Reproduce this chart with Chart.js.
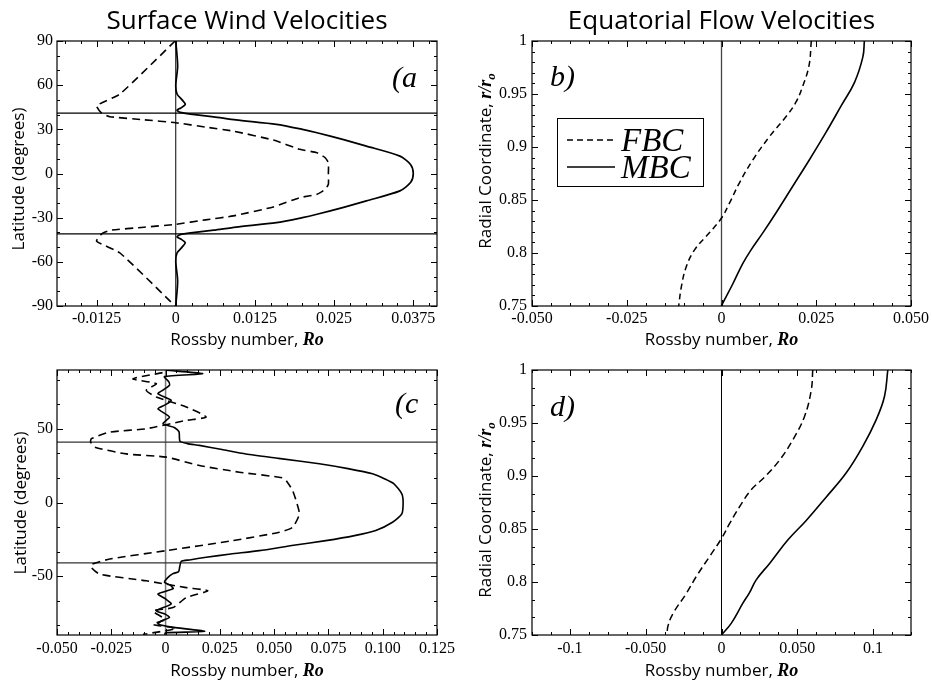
<!DOCTYPE html>
<html>
<head>
<meta charset="utf-8">
<title>Surface Wind and Equatorial Flow Velocities</title>
<script src="https://cdn.jsdelivr.net/npm/chart.js@4.4.1/dist/chart.umd.min.js"></script>
<style>
  body { margin: 0; background: #fff; }
  #wrap { position: relative; width: 932px; height: 683px; }
  #wrap canvas { position: absolute; left: 0; top: 0; }
</style>
</head>
<body>
<div id="wrap">
  <canvas id="chartA" width="932" height="683"></canvas>
  <canvas id="chartB" width="932" height="683"></canvas>
  <canvas id="chartC" width="932" height="683"></canvas>
  <canvas id="chartD" width="932" height="683"></canvas>
</div>
<script>
/*---- data: panel (a) surface wind, Rossby number against latitude ----- */
var latA_fbc = [90, 54, 46, 41, 38.6, 36.5, 34.5, 31.5, 28.8, 22.7, 16.4, 14.1, 10.7, 7.3, 0, -7.3, -10.7, -14.1, -16.4, -22.7, -28.8, -31.5, -34.5, -36.5, -38.6, -41, -46, -54, -90];
var roA_fbc = [-0.0001, -0.0088, -0.0125, -0.0117, -0.0104, -0.0050, 0.0000, 0.0047, 0.0091, 0.0154, 0.0196, 0.0223, 0.0236, 0.0241, 0.0241, 0.0241, 0.0236, 0.0223, 0.0196, 0.0154, 0.0091, 0.0047, 0.0000, -0.0050, -0.0104, -0.0117, -0.0125, -0.0088, -0.0001];
var latA_mbc = [90, 73, 60, 54, 50, 47, 44.5, 43, 41.5, 40.2, 38.5, 36.4, 33.4, 30, 27.7, 23, 18.6, 11.8, 6, 0, -6, -11.8, -18.6, -23, -27.7, -30, -33.4, -36.4, -38.5, -40.2, -41.5, -43, -44.5, -47, -50, -54, -60, -73, -90];
var roA_mbc = [0.0000, 0.0003, 0.0000, 0.0002, 0.0010, 0.0015, 0.0008, 0.0002, 0.0007, 0.0027, 0.0060, 0.0095, 0.0159, 0.0200, 0.0223, 0.0265, 0.0301, 0.0354, 0.0371, 0.0375, 0.0371, 0.0354, 0.0301, 0.0265, 0.0223, 0.0200, 0.0159, 0.0095, 0.0060, 0.0027, 0.0007, 0.0002, 0.0008, 0.0015, 0.0010, 0.0002, 0.0000, 0.0003, 0.0000];

/*---- data: panel (b) equatorial flow, Rossby number against radius ----- */
var rB_fbc = [1.000, 0.977, 0.958, 0.942, 0.929, 0.910, 0.888, 0.866, 0.847, 0.833, 0.819, 0.803, 0.787, 0.768, 0.750];
var roB_fbc = [0.0237, 0.0231, 0.0215, 0.0196, 0.0171, 0.0127, 0.0083, 0.0047, 0.0021, 0.0000, -0.0032, -0.0071, -0.0093, -0.0106, -0.0113];
var rB_mbc = [1.000, 0.985, 0.961, 0.939, 0.914, 0.888, 0.863, 0.838, 0.819, 0.803, 0.790, 0.771, 0.7525, 0.750];
var roB_mbc = [0.0377, 0.0373, 0.0351, 0.0316, 0.0276, 0.0232, 0.0188, 0.0144, 0.0109, 0.0078, 0.0056, 0.0030, 0.0003, 0.0000];

/*---- data: panel (c) surface wind ----- */
var latC_fbc = [88.2, 84, 80.7, 76.2, 71.7, 64.9, 58.1, 55.8, 50.1, 47.8, 43.3, 41, 37.6, 33, 30.8, 25.1, 20.6, 16.7, 14, 8.1, 1.3, -7.8, -16.8, -20.2, -25.9, -32.7, -38.4, -42, -44.1, -48.7, -53.2, -57.8, -60, -64.6, -71.4, -73.7, -79.4, -82.8, -85.5, -89.6];
var roC_fbc = [-0.0014, -0.0150, -0.0043, -0.0089, -0.0043, 0.0095, 0.0187, 0.0095, -0.0089, -0.0257, -0.0342, -0.0345, -0.0326, -0.0181, 0.0003, 0.0156, 0.0340, 0.0539, 0.0560, 0.0585, 0.0601, 0.0616, 0.0585, 0.0524, 0.0309, 0.0003, -0.0257, -0.0340, -0.0342, -0.0303, -0.0089, 0.0095, 0.0195, 0.0095, 0.0034, -0.0058, -0.0003, -0.0058, 0.0049, -0.0104];
var latC_mbc = [89.8, 87.5, 85.5, 82, 79.6, 76.5, 73.9, 69.4, 66.5, 63.7, 58, 53.5, 51, 48, 41.7, 40, 38.8, 36, 33, 30, 26.3, 23, 19.5, 16, 12.7, 5.9, 0, -7.7, -13.4, -19, -22.5, -25.9, -29, -32.7, -35, -37.2, -39, -40, -43.8, -47, -48.3, -51, -54.2, -56, -58.5, -62.1, -65.5, -68.9, -73.5, -76, -78, -80.5, -82.5, -84.5, -87.5, -88.5, -89.8];
var roC_mbc = [0.0005, 0.0171, -0.0005, 0.0015, 0.0018, -0.0010, -0.0035, 0.0026, 0.0000, -0.0035, 0.0018, -0.0012, 0.0040, 0.0062, 0.0066, 0.0100, 0.0156, 0.0260, 0.0370, 0.0520, 0.0708, 0.0840, 0.0953, 0.1010, 0.1052, 0.1088, 0.1094, 0.1088, 0.1045, 0.0968, 0.0870, 0.0738, 0.0590, 0.0432, 0.0300, 0.0187, 0.0110, 0.0072, 0.0065, 0.0060, 0.0034, 0.0010, -0.0005, 0.0020, 0.0035, -0.0035, 0.0000, 0.0026, -0.0043, 0.0000, 0.0018, -0.0020, -0.0035, 0.0020, 0.0180, 0.0000, -0.0005];

/*---- data: panel (d) equatorial flow ----- */
var rD_fbc = [1.000, 0.981, 0.956, 0.934, 0.915, 0.899, 0.887, 0.871, 0.855, 0.841, 0.824, 0.805, 0.789, 0.770, 0.758, 0.750];
var roD_fbc = [0.0602, 0.0592, 0.0547, 0.0470, 0.0383, 0.0284, 0.0196, 0.0119, 0.0053, 0.0000, -0.0079, -0.0167, -0.0233, -0.0321, -0.0354, -0.0358];
var rD_mbc = [1.000, 0.975, 0.953, 0.928, 0.903, 0.880, 0.858, 0.840, 0.818, 0.802, 0.790, 0.780, 0.761, 0.750];
var roD_mbc = [0.1097, 0.1075, 0.1020, 0.0932, 0.0823, 0.0690, 0.0559, 0.0440, 0.0320, 0.0229, 0.0185, 0.0141, 0.0064, 0.0000];

// tangent cylinder latitude lines in (a) and (c)
var boundaryLat = [41, -41];

/*---- axis ticks ----- */
var ticksA_x = [-0.0125, 0, 0.0125, 0.025, 0.0375];
var labelsA_x = ["-0.0125", "0", "0.0125", "0.025", "0.0375"];
var ticksA_y = [-90, -60, -30, 0, 30, 60, 90];
var labelsA_y = ["-90", "-60", "-30", "0", "30", "60", "90"];
var ticksB_x = [-0.05, -0.025, 0, 0.025, 0.05];
var labelsB_x = ["-0.050", "-0.025", "0", "0.025", "0.050"];
var ticksR = [0.75, 0.8, 0.85, 0.9, 0.95, 1];
var labelsR = ["0.75", "0.8", "0.85", "0.9", "0.95", "1"];
var ticksC_x = [-0.05, -0.025, 0, 0.025, 0.05, 0.075, 0.1, 0.125];
var labelsC_x = ["-0.050", "-0.025", "0", "0.025", "0.050", "0.075", "0.100", "0.125"];
var ticksC_y = [-50, 0, 50];
var labelsC_y = ["-50", "0", "50"];
var ticksD_x = [-0.1, -0.05, 0, 0.05, 0.1];
var labelsD_x = ["-0.1", "-0.050", "0", "0.050", "0.1"];

/*---- helpers ----- */
var SANS = "'Open Sans', sans-serif";
var SERIF = "'Liberation Serif', serif";

Chart.defaults.font.family = SERIF;
Chart.defaults.font.size = 16;
Chart.defaults.color = '#000';
Chart.defaults.animation = false;

function pts(xs, ys) {
    return xs.map(function (x, i) { return { x: x, y: ys[i] }; });
}

function minorValues(min, max, step) {
    var out = [];
    var k = Math.ceil(min / step - 1e-6);
    for (; k * step <= max + 1e-9; k++) out.push(k * step);
    return out;
}

function drawParts(ctx, parts, cx, cy, rotate) {
    ctx.save();
    ctx.translate(cx, cy);
    if (rotate) ctx.rotate(-Math.PI / 2);
    var total = 0;
    parts.forEach(function (p) { ctx.font = p.font; total += ctx.measureText(p.text).width; });
    var x = -total / 2;
    ctx.textAlign = 'left';
    ctx.textBaseline = 'alphabetic';
    ctx.fillStyle = '#000';
    parts.forEach(function (p) {
        ctx.font = p.font;
        ctx.fillText(p.text, x, p.dy || 0);
        x += ctx.measureText(p.text).width;
    });
    ctx.restore();
}

// frame, inward ticks, mixed-font axis titles, panel letter and legend
var frame = {
    id: 'frame',
    afterDatasetsDraw: function (chart, args, o) {
        var ctx = chart.ctx, a = chart.chartArea;
        var xs = chart.scales.x, ys = chart.scales.y;
        ctx.save();
        ctx.strokeStyle = '#000';
        ctx.lineWidth = 1.2;
        ctx.strokeRect(a.left, a.top, a.right - a.left, a.bottom - a.top);

        ctx.lineWidth = 1;
        ctx.beginPath();
        function tickX(v, len) {
            var p = Math.round(xs.getPixelForValue(v)) + 0.5;
            ctx.moveTo(p, a.bottom); ctx.lineTo(p, a.bottom - len);
            ctx.moveTo(p, a.top); ctx.lineTo(p, a.top + len);
        }
        function tickY(v, len) {
            var p = Math.round(ys.getPixelForValue(v)) + 0.5;
            ctx.moveTo(a.left, p); ctx.lineTo(a.left + len, p);
            ctx.moveTo(a.right, p); ctx.lineTo(a.right - len, p);
        }
        xs.ticks.forEach(function (t) { tickX(t.value, 6); });
        ys.ticks.forEach(function (t) { tickY(t.value, 6); });
        minorValues(xs.min, xs.max, o.minorX).forEach(function (v) { tickX(v, 3); });
        minorValues(ys.min, ys.max, o.minorY).forEach(function (v) { tickY(v, 3); });
        ctx.stroke();

        // axis titles
        drawParts(ctx, [
            { text: 'Rossby number, ', font: '17px ' + SANS },
            { text: 'Ro', font: 'italic bold 18px ' + SERIF }
        ], (a.left + a.right) / 2, o.xTitleY, false);
        drawParts(ctx, o.yTitle, o.yTitleX, o.yTitleY, true);

        // panel letter
        ctx.font = 'italic 30px ' + SERIF;
        ctx.textAlign = 'left';
        ctx.textBaseline = 'alphabetic';
        ctx.fillStyle = '#000';
        ctx.fillText(o.panel.text, o.panel.x, o.panel.y);

        // legend box
        if (o.legend) {
            var L = o.legend;
            ctx.lineWidth = 1;
            ctx.strokeRect(L.x + 0.5, L.y + 0.5, L.w, L.h);
            var row = 0;
            chart.data.datasets.forEach(function (ds) {
                if (!ds.label) return;
                var ly = L.y + 22 + row * 27;
                ctx.save();
                ctx.lineWidth = ds.borderWidth;
                ctx.setLineDash(ds.borderDash || []);
                ctx.beginPath();
                ctx.moveTo(L.x + 10, ly);
                ctx.lineTo(L.x + 58, ly);
                ctx.stroke();
                ctx.restore();
                ctx.font = 'italic 33px ' + SERIF;
                ctx.fillText(ds.label, L.x + 64, ly + 11);
                row++;
            });
        }
        ctx.restore();
    }
};

function makeScales(o) {
    return {
        x: {
            type: 'linear', min: o.xMin, max: o.xMax,
            afterFit: function (s) { s.height = 30; },
            afterBuildTicks: function (s) { s.ticks = o.xTicks.map(function (v) { return { value: v }; }); },
            ticks: { callback: function (v, i) { return o.xLabels[i]; }, padding: o.xPad, autoSkip: false, maxRotation: 0, font: { family: SERIF, size: 16 } },
            grid: { display: false, drawTicks: false },
            border: { display: false }
        },
        y: {
            type: 'linear', min: o.yMin, max: o.yMax,
            afterFit: function (s) { s.width = 50; },
            afterBuildTicks: function (s) { s.ticks = o.yTicks.map(function (v) { return { value: v }; }); },
            ticks: { callback: function (v, i) { return o.yLabels[i]; }, padding: o.yPad, autoSkip: false, font: { family: SERIF, size: 16 } },
            grid: { display: false, drawTicks: false },
            border: { display: false }
        }
    };
}

function pad(area, withTitle) {
    return {
        left: area.left - 50,
        right: 932 - area.right,
        top: withTitle ? area.top - 36.2 : area.top,
        bottom: 683 - area.bottom - 30
    };
}

function titleOpts(text) {
    return {
        display: !!text, text: text, fullSize: false, color: '#000',
        font: { family: SANS, size: 26, weight: 'normal' },
        padding: { top: 1, bottom: 4 }
    };
}

var latTitle = [{ text: 'Latitude (degrees)', font: '17px ' + SANS }];
var radTitle = [
    { text: 'Radial Coordinate, ', font: '17px ' + SANS },
    { text: 'r/r', font: 'italic bold 18px ' + SERIF },
    { text: 'o', font: 'italic bold 13px ' + SERIF, dy: 4 }
];

/*---- (a) ----- */
var ctx = document.getElementById('chartA').getContext('2d');
var chartA = new Chart(ctx, {
    type: 'scatter',
    data: {
        datasets: [{
            label: 'MBC', data: pts(roA_mbc, latA_mbc), showLine: true,
            borderColor: '#000', borderWidth: 1.7, pointRadius: 0, tension: 0.25
        }, {
            label: 'FBC', data: pts(roA_fbc, latA_fbc), showLine: true,
            borderColor: '#000', borderWidth: 1.6, borderDash: [8, 5], pointRadius: 0, tension: 0.15
        }, {
            data: pts([-1, 1], [boundaryLat[0], boundaryLat[0]]), showLine: true,
            borderColor: '#000', borderWidth: 1.2, pointRadius: 0
        }, {
            data: pts([-1, 1], [boundaryLat[1], boundaryLat[1]]), showLine: true,
            borderColor: '#000', borderWidth: 1.2, pointRadius: 0
        }, {
            data: pts([0, 0], [-90, 90]), showLine: true,
            borderColor: '#000', borderWidth: 1, pointRadius: 0
        }]
    },
    options: {
        responsive: false,
        layout: { padding: pad({ left: 57, right: 437, top: 41, bottom: 306 }, true) },
        scales: makeScales({
            xMin: -0.01875, xMax: 0.04125, xTicks: ticksA_x, xLabels: labelsA_x, xPad: 3,
            yMin: -90, yMax: 90, yTicks: ticksA_y, yLabels: labelsA_y, yPad: 4
        }),
        plugins: {
            legend: { display: false }, tooltip: { enabled: false },
            title: titleOpts('Surface Wind Velocities'),
            frame: {
                minorX: 0.0025, minorY: 10, xTitleY: 345,
                yTitle: latTitle, yTitleX: 24, yTitleY: 179,
                panel: { text: '(a', x: 392, y: 87 }
            }
        }
    },
    plugins: [frame]
});

/*---- (b) ----- */
var ctx = document.getElementById('chartB').getContext('2d');
var chartB = new Chart(ctx, {
    type: 'scatter',
    data: {
        datasets: [{
            label: 'FBC', data: pts(roB_fbc, rB_fbc), showLine: true,
            borderColor: '#000', borderWidth: 1.5, borderDash: [6, 4], pointRadius: 0, tension: 0.4
        }, {
            label: 'MBC', data: pts(roB_mbc, rB_mbc), showLine: true,
            borderColor: '#000', borderWidth: 1.6, pointRadius: 0, tension: 0.4
        }, {
            data: pts([0, 0], [0.75, 1]), showLine: true,
            borderColor: '#444', borderWidth: 1.3, pointRadius: 0
        }]
    },
    options: {
        responsive: false,
        layout: { padding: pad({ left: 532, right: 911, top: 41, bottom: 306 }, true) },
        scales: makeScales({
            xMin: -0.05, xMax: 0.05, xTicks: ticksB_x, xLabels: labelsB_x, xPad: 3,
            yMin: 0.75, yMax: 1, yTicks: ticksR, yLabels: labelsR, yPad: 5
        }),
        plugins: {
            legend: { display: false }, tooltip: { enabled: false },
            title: titleOpts('Equatorial Flow Velocities'),
            frame: {
                minorX: 0.005, minorY: 0.01, xTitleY: 345,
                yTitle: radTitle, yTitleX: 491, yTitleY: 161,
                panel: { text: 'b)', x: 550, y: 86 },
                legend: { x: 557, y: 118, w: 146, h: 68 }
            }
        }
    },
    plugins: [frame]
});

/*---- (c) ----- */
var ctx = document.getElementById('chartC').getContext('2d');
var chartC = new Chart(ctx, {
    type: 'scatter',
    data: {
        datasets: [{
            label: 'MBC', data: pts(roC_mbc, latC_mbc), showLine: true,
            borderColor: '#000', borderWidth: 1.6, pointRadius: 0, tension: 0.2
        }, {
            label: 'FBC', data: pts(roC_fbc, latC_fbc), showLine: true,
            borderColor: '#000', borderWidth: 1.6, borderDash: [8, 5], pointRadius: 0, tension: 0.2
        }, {
            data: pts([-1, 1], [boundaryLat[0], boundaryLat[0]]), showLine: true,
            borderColor: '#333', borderWidth: 1.3, pointRadius: 0
        }, {
            data: pts([-1, 1], [boundaryLat[1], boundaryLat[1]]), showLine: true,
            borderColor: '#333', borderWidth: 1.3, pointRadius: 0
        }, {
            data: pts([0, 0], [-90, 90]), showLine: true,
            borderColor: '#777', borderWidth: 1.5, pointRadius: 0
        }]
    },
    options: {
        responsive: false,
        layout: { padding: pad({ left: 57, right: 437, top: 370, bottom: 635 }, false) },
        scales: makeScales({
            xMin: -0.05, xMax: 0.125, xTicks: ticksC_x, xLabels: labelsC_x, xPad: 4,
            yMin: -90, yMax: 90, yTicks: ticksC_y, yLabels: labelsC_y, yPad: 4
        }),
        plugins: {
            legend: { display: false }, tooltip: { enabled: false },
            title: titleOpts(''),
            frame: {
                minorX: 0.005, minorY: 50 / 3, xTitleY: 676,
                yTitle: latTitle, yTitleX: 26, yTitleY: 503,
                panel: { text: '(c', x: 395, y: 413 }
            }
        }
    },
    plugins: [frame]
});

/*---- (d) ----- */
var ctx = document.getElementById('chartD').getContext('2d');
var chartD = new Chart(ctx, {
    type: 'scatter',
    data: {
        datasets: [{
            label: 'FBC', data: pts(roD_fbc, rD_fbc), showLine: true,
            borderColor: '#000', borderWidth: 1.5, borderDash: [7, 4], pointRadius: 0, tension: 0.4
        }, {
            label: 'MBC', data: pts(roD_mbc, rD_mbc), showLine: true,
            borderColor: '#000', borderWidth: 1.6, pointRadius: 0, tension: 0.4
        }, {
            data: pts([0, 0], [0.75, 1]), showLine: true,
            borderColor: '#000', borderWidth: 1, pointRadius: 0
        }]
    },
    options: {
        responsive: false,
        layout: { padding: pad({ left: 532, right: 911, top: 370, bottom: 635 }, false) },
        scales: makeScales({
            xMin: -0.125, xMax: 0.125, xTicks: ticksD_x, xLabels: labelsD_x, xPad: 4,
            yMin: 0.75, yMax: 1, yTicks: ticksR, yLabels: labelsR, yPad: 5
        }),
        plugins: {
            legend: { display: false }, tooltip: { enabled: false },
            title: titleOpts(''),
            frame: {
                minorX: 0.0125, minorY: 0.05 / 3, xTitleY: 676,
                yTitle: radTitle, yTitleX: 491, yTitleY: 510,
                panel: { text: 'd)', x: 550, y: 416 }
            }
        }
    },
    plugins: [frame]
});
</script>
</body>
</html>
